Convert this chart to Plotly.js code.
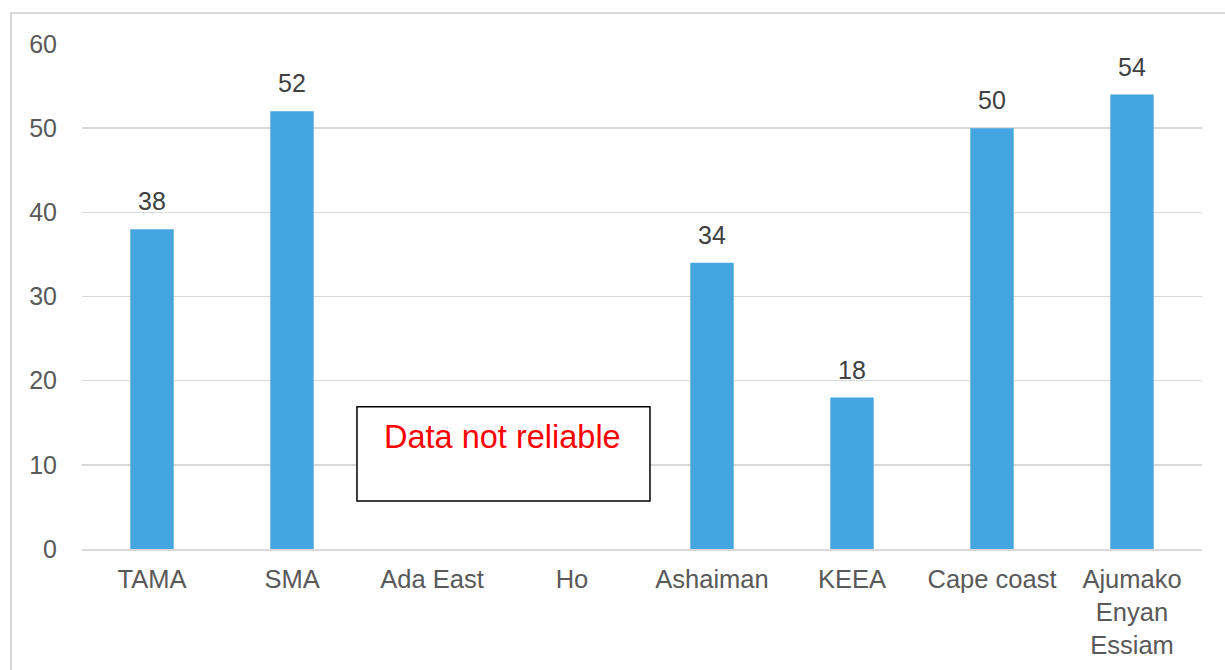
<!DOCTYPE html>
<html>
<head>
<meta charset="utf-8">
<script src="https://cdn.plot.ly/plotly-3.0.1.min.js"></script>
<style>html,body{margin:0;padding:0;background:#fff;}#chart{width:1225px;height:670px;}</style>
</head>
<body>
<div id="chart"></div>
<script>
var categories = ["TAMA", "SMA", "Ada East", "Ho", "Ashaiman", "KEEA", "Cape coast", "Ajumako<br>Enyan<br>Essiam"];
var values = [38, 52, null, null, 34, 18, 50, 54];
var yTicks = [0, 10, 20, 30, 40, 50, 60];
var noteText = "Data not reliable";

var FONT = "Liberation Sans, Arial, sans-serif";

var trace = {
  type: "bar",
  x: categories,
  y: values,
  marker: {color: "#45A5E0"},
  width: 0.31,
  hoverinfo: "none"
};

var labelAnnotations = [];
categories.forEach(function(c, i){
  if (values[i] === null) return;
  labelAnnotations.push({
    xref: "x", yref: "y", x: c, y: values[i],
    text: String(values[i]), showarrow: false,
    xanchor: "center", yanchor: "bottom", yshift: 12,
    font: {family: FONT, size: 25, color: "#404040"}
  });
});

var layout = {
  width: 1225, height: 670,
  margin: {l: 82, r: 23, t: 44, b: 121},
  paper_bgcolor: "#ffffff",
  plot_bgcolor: "#ffffff",
  showlegend: false,
  font: {family: FONT, size: 25, color: "#595959"},
  xaxis: {
    type: "category",
    tickfont: {family: FONT, size: 25.5, color: "#595959"},
    showgrid: false,
    showline: true,
    linecolor: "#d9d9d9",
    linewidth: 1.5,
    ticks: "",
    ticklabelstandoff: 7,
    automargin: false
  },
  yaxis: {
    range: [0, 60],
    tickvals: yTicks,
    ticktext: yTicks.map(String),
    tickfont: {family: FONT, size: 25, color: "#595959"},
    showgrid: true,
    gridcolor: "#d9d9d9",
    gridwidth: 1.5,
    zeroline: false,
    showline: false,
    ticks: "",
    ticklabelstandoff: 24,
    automargin: false
  },
  shapes: [
    {type: "rect", xref: "paper", yref: "paper", x0: -0.0634, x1: 1.2, y0: -0.5, y1: 1.0614,
     line: {color: "#d9d9d9", width: 2}, fillcolor: "rgba(0,0,0,0)", layer: "below"},
    {type: "rect", xref: "x", yref: "y", x0: 1.464, x1: 3.557, y0: 5.7, y1: 16.9,
     line: {color: "#000000", width: 1.5}, fillcolor: "#ffffff", layer: "above"}
  ],
  annotations: labelAnnotations.concat([
    {xref: "x", yref: "y", x: 2.507, y: 13.3, text: noteText, showarrow: false,
     font: {family: FONT, size: 32.5, color: "#ff0000"},
     xanchor: "center", yanchor: "middle"}
  ])
};

Plotly.newPlot("chart", [trace], layout, {displayModeBar: false, staticPlot: true});
</script>
</body>
</html>
